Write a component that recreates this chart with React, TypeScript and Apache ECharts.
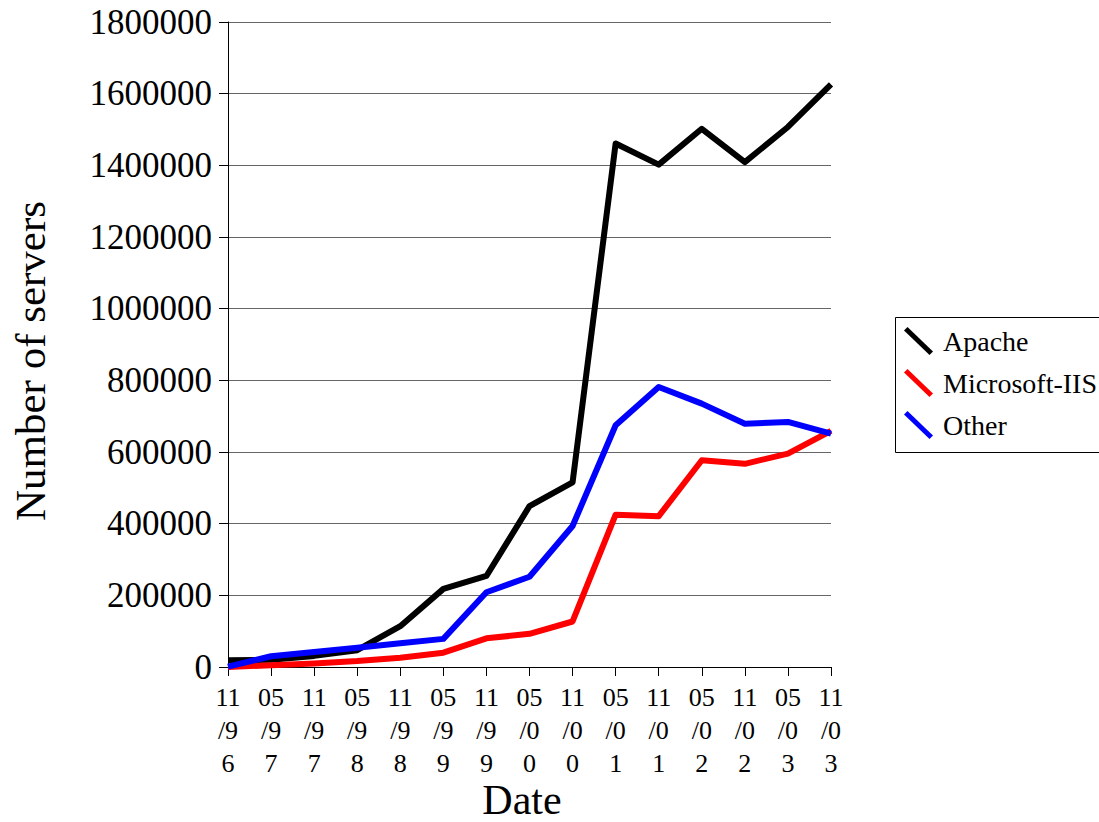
import React, { useEffect, useRef } from "react";
import * as echarts from "echarts";

const categories = ["11/96", "05/97", "11/97", "05/98", "11/98", "05/99", "11/99", "05/00", "11/00", "05/01", "11/01", "05/02", "11/02", "05/03", "11/03"];
const apache = [19000, 20000, 31000, 47000, 114000, 218000, 254000, 449000, 515000, 1461000, 1402000, 1502000, 1409000, 1507000, 1626000];
const microsoftIIS = [0, 5000, 10000, 16500, 26000, 40000, 80000, 92500, 127000, 425000, 421000, 577000, 567000, 595500, 659000];
const other = [1000, 30000, 42000, 53500, 66500, 78500, 208500, 252000, 393500, 674500, 781500, 735000, 679000, 684000, 651000];
const seriesNames = ["Apache", "Microsoft-IIS", "Other"];
const seriesColors = ["#000000", "#ff0000", "#0000ff"];

const FONT = "'Liberation Serif', 'Times New Roman', serif";

export default function App() {
  const ref = useRef<HTMLDivElement>(null);
  useEffect(() => {
    document.body.style.margin = "0";
    if (!ref.current) return;
    const chart = echarts.init(ref.current, null, { renderer: "svg" });
    const data = [apache, microsoftIIS, other];
    const icon = "path://M0,3.5 L3.5,0 L29,24.5 L25.5,28 Z";
    chart.setOption({
      animation: false,
      backgroundColor: "#ffffff",
      textStyle: { fontFamily: FONT },
      grid: { left: 228, top: 22, width: 603, height: 645, containLabel: false },
      legend: {
        orient: "vertical",
        left: 904,
        top: 327,
        padding: 0,
        itemWidth: 29,
        itemHeight: 28,
        itemGap: 14,
        icon: icon,
        data: seriesNames.map((n) => ({ name: n, icon })),
        textStyle: { fontFamily: FONT, fontSize: 28, color: "#000", padding: [0, 0, 0, 5] },
        selectedMode: false,
      },
      xAxis: {
        type: "category",
        data: categories,
        boundaryGap: false,
        axisLine: { lineStyle: { color: "#000", width: 1 } },
        axisTick: { show: true, length: 9, inside: false, alignWithLabel: true, interval: 0, lineStyle: { color: "#000" } },
        axisLabel: {
          interval: 0,
          margin: 14,
          fontFamily: FONT,
          fontSize: 26,
          lineHeight: 33,
          color: "#000",
          formatter: (s: string) => s.slice(0, 2) + "\n" + s.slice(2, 4) + "\n" + s.slice(4),
        },
        splitLine: { show: false },
      },
      yAxis: {
        type: "value",
        min: 0,
        max: 1800000,
        interval: 200000,
        axisLine: { show: true, lineStyle: { color: "#000", width: 1 } },
        axisTick: { show: true, length: 9, lineStyle: { color: "#000" } },
        axisLabel: {
          margin: 16,
          fontFamily: FONT,
          fontSize: 35,
          color: "#000",
          formatter: (v: number) => String(v),
        },
        splitLine: { show: true, lineStyle: { color: "#666666", width: 1 } },
      },
      series: seriesNames.map((name, i) => ({
        name,
        type: "line",
        data: data[i],
        symbol: "none",
        showSymbol: false,
        lineStyle: { color: seriesColors[i], width: 6, join: "round" },
        itemStyle: { color: seriesColors[i] },
      })),
      graphic: [
        {
          type: "rect",
          shape: { x: 895.5, y: 317.5, width: 260, height: 135 },
          style: { fill: "none", stroke: "#000", lineWidth: 1 },
          z: 10,
        },
        {
          type: "text",
          x: 30,
          y: 361,
          rotation: Math.PI / 2,
          style: {
            text: "Number of servers",
            font: `43px ${FONT}`,
            fill: "#000",
            align: "center",
            verticalAlign: "middle",
          },
        },
        {
          type: "text",
          x: 522,
          y: 800,
          style: {
            text: "Date",
            fontFamily: FONT,
            fontSize: 42,
            lineHeight: 36,
            fill: "#000",
            align: "center",
            verticalAlign: "middle",
          },
        },
      ],
    });
    return () => chart.dispose();
  }, []);
  return <div ref={ref} style={{ width: 1099, height: 822 }} />;
}
